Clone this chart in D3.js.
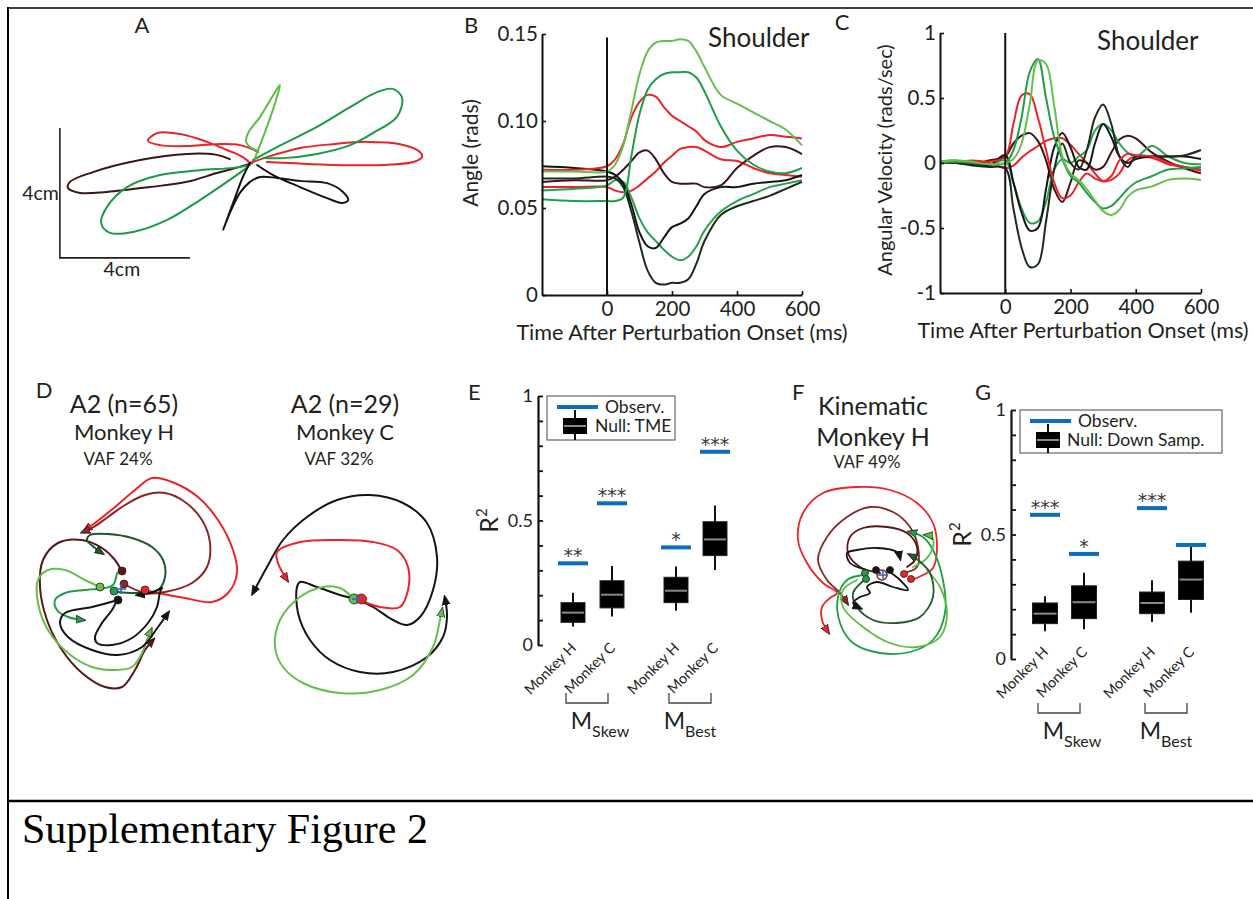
<!DOCTYPE html>
<html>
<head>
<meta charset="utf-8">
<script src="https://d3js.org/d3.v7.min.js"></script>
<style>
  body { margin: 0; background: #fff; }
  svg { display: block; }
  text { font-family: Lato, "Open Sans", sans-serif; fill: #231f20; }
</style>
</head>
<body>
<svg id="fig" width="1253" height="899"></svg>
<script>
// ---------------- data ----------------
// A: hand paths (cm, relative to start position)
const handBrown = [[0.06,0],[-0.31,-0.12],[-1.02,-0.31],[-1.94,-0.58],[-3.08,-0.74],[-4.4,-0.89],[-5.23,-0.92],[-5.6,-0.77],[-5.54,-0.58],[-4.83,-0.28],[-3.38,0.09],[-1.94,0.28],[-1.02,0.25],[-0.62,0.12]];
const handRedL = [[0,0],[-0.22,0.18],[-0.71,0.4],[-1.32,0.65],[-2.15,0.89],[-2.86,0.92],[-3.14,0.68],[-2.77,0.55],[-1.94,0.52],[-1.02,0.58],[-0.31,0.55],[0.25,0.34]];
const handRedR = [[0,0],[0.52,0.18],[1.54,0.46],[2.55,0.58],[3.6,0.65],[4.62,0.58],[5.23,0.34],[5.29,0.18],[5.02,0.03],[4.09,-0.06],[2.55,-0.06],[1.23,0],[0.52,0.03]];
const handGreenUp = [[0.09,0.09],[0.83,0.49],[2.06,1.11],[3.08,1.72],[3.91,2.18],[4.4,2.28],[4.68,2.0],[4.52,1.42],[3.78,0.92],[3.08,0.55],[2.06,0.28],[1.02,0.15],[0.4,0.15]];
const handGreenDown = [[0,-0.06],[-0.52,-0.15],[-1.54,-0.22],[-2.77,-0.37],[-3.78,-0.74],[-4.4,-1.35],[-4.58,-1.85],[-4.31,-2.15],[-3.6,-2.12],[-2.55,-1.75],[-1.54,-1.14],[-0.62,-0.52],[-0.06,-0.12]];
const handLightGreen = [[0.15,0.15],[0.52,1.11],[0.83,2.03],[0.92,2.4],[0.68,2.03],[0.31,1.42],[-0.06,0.92],[-0.12,0.65],[0,0.49],[0.25,0.37]];
const handBlack = [[0,0],[-0.22,-0.43],[-0.52,-1.23],[-0.83,-2.06],[-0.62,-1.54],[-0.31,-0.92],[0,-0.58],[0.31,-0.43],[0.83,-0.46],[1.54,-0.55],[2.37,-0.62],[2.86,-0.89],[3.02,-1.14],[2.83,-1.23],[2.37,-1.08],[1.54,-0.74],[0.71,-0.37],[0.22,-0.06]];
const scaleBarCm = 4;

// B: shoulder angle (rads)
const timeB = [-200,-100,0,25,50,75,100,125,150,175,200,225,250,275,300,350,400,450,500,550,600];
const angLightGreen = [0.071,0.071,0.071,0.075,0.086,0.106,0.127,0.140,0.145,0.146,0.146,0.147,0.146,0.140,0.131,0.115,0.110,0.105,0.100,0.095,0.086];
const angGreenUp    = [0.055,0.054,0.054,0.054,0.056,0.080,0.104,0.118,0.124,0.127,0.128,0.128,0.128,0.125,0.117,0.097,0.083,0.075,0.071,0.070,0.073];
const angRedUp      = [0.072,0.072,0.074,0.078,0.087,0.102,0.111,0.115,0.114,0.108,0.103,0.100,0.097,0.094,0.089,0.085,0.088,0.090,0.092,0.091,0.090];
const angRedLow     = [0.062,0.062,0.062,0.060,0.059,0.060,0.063,0.067,0.071,0.076,0.080,0.084,0.085,0.085,0.083,0.078,0.077,0.073,0.070,0.069,0.068];
const angBrown      = [0.065,0.066,0.066,0.068,0.072,0.077,0.082,0.083,0.078,0.070,0.065,0.064,0.064,0.064,0.062,0.063,0.073,0.080,0.085,0.085,0.081];
const angBlack      = [0.074,0.073,0.071,0.069,0.064,0.052,0.036,0.028,0.027,0.033,0.039,0.041,0.044,0.051,0.058,0.062,0.062,0.064,0.065,0.066,0.069];
const angDark       = [0.067,0.067,0.068,0.067,0.062,0.048,0.030,0.014,0.007,0.006,0.007,0.007,0.009,0.018,0.031,0.046,0.051,0.054,0.057,0.061,0.065];
const angGreenDown  = [0.060,0.061,0.063,0.066,0.065,0.056,0.044,0.036,0.031,0.026,0.022,0.020,0.022,0.028,0.037,0.048,0.054,0.058,0.062,0.064,0.066];

// C: shoulder angular velocity (rads/sec)
const timeC = [-200,-150,-100,-50,0,25,50,75,100,125,150,175,200,225,250,275,300,325,350,375,400,450,500,550,600];
const velLightGreen = [0.01,0.02,0.01,-0.01,0.0,0.03,0.15,0.45,0.79,0.76,0.44,0.05,-0.08,-0.13,-0.2,-0.29,-0.37,-0.40,-0.36,-0.26,-0.21,-0.18,-0.13,-0.12,-0.13];
const velGreen      = [0.0,0.01,0.0,-0.01,0.0,0.1,0.35,0.7,0.8,0.5,0.2,0.03,-0.1,-0.15,-0.23,-0.3,-0.35,-0.33,-0.27,-0.2,-0.15,-0.1,-0.05,-0.04,-0.03];
const velRedBig     = [0.0,0.01,0.02,0.01,0.05,0.3,0.52,0.53,0.35,0.1,-0.15,-0.27,-0.25,-0.15,-0.08,-0.12,-0.14,-0.1,0.02,0.07,0.06,0.05,0.0,-0.03,-0.06];
const velRedSmall   = [0.0,0.0,0.01,0.0,-0.04,-0.02,0.04,0.09,0.13,0.17,0.19,0.19,0.14,0.07,0.0,-0.08,-0.14,-0.13,-0.08,0.02,0.05,0.04,-0.01,-0.03,-0.05];
const velBrown      = [0.0,0.0,-0.01,0.02,0.05,0.15,0.21,0.23,0.17,0.02,-0.2,-0.3,-0.15,0.02,0.0,-0.05,-0.03,0.08,0.18,0.21,0.19,0.08,0.01,-0.04,-0.08];
const velBlack      = [0.0,0.01,0.0,-0.02,0.06,-0.15,-0.38,-0.52,-0.5,-0.2,0.12,0.23,0.12,-0.03,-0.05,0.15,0.3,0.2,0.05,0.0,0.03,0.05,0.05,0.05,0.03];
const velDark       = [0.0,0.0,-0.02,-0.03,-0.04,-0.35,-0.65,-0.8,-0.78,-0.45,-0.05,0.15,0.0,-0.05,0.1,0.35,0.45,0.3,0.05,-0.03,0.05,0.05,0.05,0.06,0.1];
const velGreen2     = [0.01,0.02,0.0,-0.02,0.02,-0.15,-0.35,-0.46,-0.45,-0.3,-0.05,0.03,0.0,0.05,0.1,0.25,0.3,0.25,0.15,0.08,0.05,0.13,0.05,0.0,-0.01];

// D: neural trajectories, Monkey H (a.u.)
const popHRed = [[2.5,0.1],[3.8,-0.2],[6.5,-0.7],[9.2,-1.1],[10.8,-0.2],[11.7,1.8],[11.3,4.1],[9.8,7.1],[7.8,9.4],[5.2,10.9],[3.2,11.3],[1.5,10.1],[-0.5,8.4],[-2.5,6.8],[-3.5,6.1]];
const popHDarkRed = [[0.4,0.7],[2.5,-0.2],[4.5,-0.1],[7.2,0.8],[8.7,2.4],[9.0,4.8],[8.2,7.1],[6.5,8.9],[4.5,9.8],[2.5,9.6],[0.5,8.6],[-1.2,7.4],[-2.8,6.3],[-3.7,5.9]];
const popHMaroon = [[0.2,1.9],[-0.5,3.1],[-1.8,4.3],[-3.8,5.1],[-6.2,4.8],[-7.7,3.1],[-8.0,0.4],[-7.3,-2.9],[-5.8,-5.9],[-3.8,-8.2],[-1.5,-9.6],[0.2,-9.6],[1.5,-7.9],[2.5,-5.9],[3.3,-4.9]];
const popHDarkGreen = [[-0.2,-0.1],[1.5,-0.2],[3.8,0.1],[4.5,1.4],[4.3,3.1],[3.2,4.4],[1.2,5.3],[-1.2,5.7],[-3.0,5.6],[-3.3,5.1],[-2.5,4.3],[-1.8,3.8]];
const popHLightGreen = [[-2.0,0.4],[-3.5,1.1],[-5.5,2.1],[-7.2,2.1],[-8.2,1.1],[-8.2,-1.2],[-7.2,-3.9],[-5.2,-6.2],[-2.8,-7.6],[-0.5,-7.9],[1.2,-7.6],[2.2,-6.2],[2.8,-4.6],[3.1,-3.9]];
const popHGreen = [[-0.3,1.8],[-0.7,0.6],[-1.5,0.3],[-3.5,0.1],[-5.5,-0.2],[-6.5,-0.9],[-6.3,-1.9],[-5.2,-2.6],[-3.7,-2.9]];
const popHBlackA = [[-0.2,-0.9],[-2.8,-1.6],[-5.5,-2.2],[-6.0,-3.2],[-5.2,-4.6],[-2.8,-5.9],[-0.2,-6.4],[2.2,-5.6],[3.8,-3.6],[4.8,-2.2]];
const popHBlackB = [[-0.2,-0.7],[-0.8,-1.9],[-1.8,-3.2],[-2.5,-4.6],[-2.3,-5.2],[-0.8,-5.4],[1.2,-4.7],[2.8,-3.2],[3.7,-1.6],[4.0,-0.1],[4.2,0.3]];
const popHBlackC = [[4.2,0.3],[3.0,-0.2],[1.8,-0.4]];
const popHStarts = [[0.2,2.0,"#5a1616"],[0.4,0.7,"#8c2626"],[-2.0,0.4,"#67bf4b"],[-0.6,0.0,"#1f9d48"],[2.5,0.1,"#ec2227"],[-0.2,-0.9,"#141414"]];

// D: neural trajectories, Monkey C (a.u.)
const popCBlackOuter = [[0,0],[1.6,-0.8],[3.6,-2.1],[5.0,-2.6],[6.3,-1.8],[7.6,0.9],[8.0,4.2],[7.0,7.6],[4.6,9.6],[1.3,10.4],[-2.0,9.9],[-5.0,8.2],[-7.4,5.9],[-9.0,3.2],[-10.4,0.6]];
const popCBlackInner = [[0,0],[-1.7,0.4],[-4.0,1.2],[-5.7,1.7],[-6.0,1.2],[-5.9,-1.4],[-4.7,-4.1],[-2.7,-6.1],[0.3,-7.3],[3.6,-7.3],[7.0,-5.8],[8.6,-3.8],[9.0,-1.8],[8.8,0.1]];
const popCRed = [[0.3,-0.1],[2.3,-0.8],[4.3,-0.8],[5.1,0.9],[5.1,3.2],[4.0,4.9],[1.6,5.7],[-1.7,5.9],[-5.7,5.7],[-8.0,4.7],[-7.9,3.6],[-7.0,1.9]];
const popCLightGreen = [[-0.4,0.1],[-1.7,1.1],[-3.4,1.2],[-5.7,0.2],[-7.7,-2.1],[-8.2,-4.8],[-7.4,-6.8],[-5.4,-8.4],[-1.7,-9.4],[2.3,-9.1],[5.6,-7.6],[7.6,-4.8],[8.3,-2.1],[8.5,-1.1]];
const popCStarts = [[-0.3,0,"#67bf4b"],[0.45,0,"#ec2227"]];

// F: kinematic trajectories, Monkey H (a.u.)
const kinRed = [[2.9,-0.5],[4.0,0],[5.0,0.7],[5.4,2.8],[5.0,5.2],[3.4,7.2],[0.7,8.5],[-2.6,8.8],[-6.0,8.2],[-8.0,6.2],[-8.5,3.5],[-7.6,1.2],[-6.0,-0.8],[-4.6,-1.8],[-5.3,-2.3],[-6.1,-3.2],[-6.1,-4.5],[-5.5,-5.7]];
const kinDarkRed = [[2.0,0.2],[3.4,0.8],[3.5,2.8],[2.7,4.8],[1.0,6.3],[-1.3,6.8],[-3.6,5.8],[-5.6,3.8],[-6.5,1.5],[-5.6,-0.5],[-4.3,-1.8],[-3.6,-2.8]];
const kinMaroon = [[-0.3,0.2],[-2.3,0.8],[-3.5,2.2],[-3.3,3.8],[-2.0,4.7],[0.4,4.8],[2.4,4.2],[3.4,2.8],[3.2,1.5],[2.4,0.8]];
const kinBlackA = [[-1.6,0.5],[-3.3,1.2],[-3.6,2.2],[-2.6,2.5],[-0.6,2.7],[1.4,2.3],[1.7,1.7]];
const kinBlackB = [[0.4,0.5],[1.7,-0.5],[2.5,-1.5],[1.0,-1.2],[-0.6,-0.7],[-1.6,-1.2],[-1.3,-1.8],[-2.3,-2.2],[-3.0,-2.8],[-2.3,-3.3]];
const kinDarkGreen = [[-1.6,-0.3],[-3.0,-1.8],[-2.6,-3.2],[-1.0,-4.5],[1.4,-4.8],[3.7,-4.2],[5.0,-2.2],[4.7,0.2],[3.5,1.5],[2.7,2.0]];
const kinGreen = [[-2.0,0],[-3.6,-0.5],[-4.5,-2.2],[-4.3,-4.8],[-3.0,-6.8],[-0.3,-7.8],[2.7,-7.7],[5.0,-6.5],[6.2,-3.8],[6.0,-0.5],[5.0,2.5],[4.0,3.8],[2.7,4.3]];
const kinLightGreen = [[-2.6,-0.5],[-4.0,-1.5],[-4.0,-3.2],[-2.0,-5.2],[0.7,-6.8],[3.4,-7.2],[5.7,-6.2],[6.4,-3.8],[5.7,-1.2],[4.4,0.5]];
const kinLightGreen2 = [[3.0,0.8],[4.3,1.6],[5.0,2.8],[4.9,3.8],[4.3,4.0]];
const kinStarts = [[-1.8,0.2,"#1f9d48"],[-1.7,-0.4,"#1f9d48"],[-0.7,0.5,"#141414"],[0.7,0.5,"#141414"],[2.1,0.1,"#ec2227"],[2.8,-0.4,"#ec2227"]];

// E & G: R^2 box plots
const boxMonkeys = ["Monkey H","Monkey C","Monkey H","Monkey C"];
const boxModels  = ["Skew","Skew","Best","Best"];
const tmeLo  = [0.074,0.114,0.138,0.301];
const tmeQ1  = [0.091,0.149,0.170,0.359];
const tmeMed = [0.130,0.202,0.218,0.424];
const tmeQ3  = [0.170,0.258,0.272,0.495];
const tmeHi  = [0.210,0.317,0.315,0.560];
const tmeObs = [0.328,0.569,0.392,0.776];
const tmeSig = ["**","***","*","***"];
const dsLo  = [0.111,0.119,0.149,0.186];
const dsQ1  = [0.142,0.162,0.182,0.239];
const dsMed = [0.182,0.228,0.225,0.319];
const dsQ3  = [0.225,0.294,0.269,0.393];
const dsHi  = [0.252,0.346,0.316,0.450];
const dsObs = [0.579,0.422,0.606,0.458];
const dsSig = ["***","*","***",""];

// ---------------- drawing ----------------
const svg = d3.select("#fig");
const defs = svg.append("defs");
const C = {lg:"#67bf4b", g:"#1f9d48", g2:"#27a24c", dg:"#1d5b2c", r:"#ec2227", dr:"#8c2626", mr:"#5a1616", br:"#3b1616", k:"#141414", kk:"#1d2b20", blue:"#0f6cb6"};

function arrow(color) {
  const id = "arr" + color.slice(1);
  if (defs.select("#" + id).empty()) {
    defs.append("marker").attr("id", id).attr("viewBox", "0 -5 10 10")
      .attr("refX", 7).attr("refY", 0).attr("markerWidth", 10).attr("markerHeight", 10)
      .attr("markerUnits", "userSpaceOnUse").attr("orient", "auto")
      .append("path").attr("d", "M0,-4L10,0L0,4Z").attr("fill", color)
      .attr("stroke", "#111").attr("stroke-width", 0.7);
  }
  return "url(#" + id + ")";
}

function label(x, y, s, size, anchor, extra) {
  const t = svg.append("text").attr("x", x).attr("y", y).attr("font-size", size)
    .attr("text-anchor", anchor || "start").text(s);
  if (extra) extra(t);
  return t;
}

// frame
svg.append("line").attr("x1", 8).attr("x2", 1253).attr("y1", 8).attr("y2", 8).attr("stroke", "#000").attr("stroke-width", 1.5);
svg.append("line").attr("x1", 8).attr("x2", 8).attr("y1", 7).attr("y2", 899).attr("stroke", "#000").attr("stroke-width", 2);
svg.append("line").attr("x1", 8).attr("x2", 1253).attr("y1", 801).attr("y2", 801).attr("stroke", "#000").attr("stroke-width", 2.5);
svg.append("text").attr("x", 22).attr("y", 843).attr("font-size", 42)
  .style("font-family", "'Liberation Serif', 'Times New Roman', serif").style("fill", "#000")
  .text("Supplementary Figure 2");

// trajectory helpers
function trajScale(cx, cy, ppu) {
  return {x: d3.scaleLinear().domain([0, 1]).range([cx, cx + ppu]),
          y: d3.scaleLinear().domain([0, 1]).range([cy, cy - ppu])};
}
function traj(sc, pts, color, withArrow, w) {
  svg.append("path").datum(pts)
    .attr("d", d3.line().x(d => sc.x(d[0])).y(d => sc.y(d[1])).curve(d3.curveCatmullRom.alpha(0.5)))
    .attr("fill", "none").attr("stroke", color).attr("stroke-width", w || 2)
    .attr("stroke-linejoin", "round").attr("stroke-linecap", "round")
    .attr("marker-end", withArrow ? arrow(color) : null);
}
function starts(sc, list, r) {
  svg.append("g").selectAll("circle").data(list).join("circle")
    .attr("cx", d => sc.x(d[0])).attr("cy", d => sc.y(d[1])).attr("r", r)
    .attr("fill", d => d[2]).attr("stroke", "#222").attr("stroke-width", 0.8);
}
function cross(sc, p) {
  const g = svg.append("g").attr("stroke", "#3a62c4").attr("stroke-width", 1.6);
  g.append("line").attr("x1", sc.x(p[0]) - 5).attr("x2", sc.x(p[0]) + 5).attr("y1", sc.y(p[1])).attr("y2", sc.y(p[1]));
  g.append("line").attr("x1", sc.x(p[0])).attr("x2", sc.x(p[0])).attr("y1", sc.y(p[1]) - 5).attr("y2", sc.y(p[1]) + 5);
}

// ---- A ----
label(142, 33, "A", 22, "middle");
const sA = trajScale(250, 163, 32.5);
const barOrigin = [-5.85, -2.92];
svg.append("path")
  .attr("d", d3.line()([[sA.x(barOrigin[0]), sA.y(barOrigin[1] + scaleBarCm)], [sA.x(barOrigin[0]), sA.y(barOrigin[1])], [sA.x(barOrigin[0] + scaleBarCm), sA.y(barOrigin[1])]]))
  .attr("fill", "none").attr("stroke", "#231f20").attr("stroke-width", 1.6);
label(sA.x(barOrigin[0]) - 1, sA.y(barOrigin[1] + scaleBarCm / 2) + 7, "4cm", 19.5, "end");
label(sA.x(barOrigin[0] + scaleBarCm / 2) - 3, sA.y(barOrigin[1]) + 18, "4cm", 19.5, "middle");
traj(sA, handBrown, C.br);
traj(sA, handGreenDown, "#1a9a44");
traj(sA, handRedL, C.r);
traj(sA, handRedR, C.r);
traj(sA, handGreenUp, "#1a9a44");
traj(sA, handLightGreen, "#5cbc45");
traj(sA, handBlack, C.k);

// ---- B & C line panels ----
function linePanel(o) {
  const x = d3.scaleLinear().domain([-200, 600]).range(o.xr);
  const y = d3.scaleLinear().domain(o.yd).range(o.yr);
  const g = svg.append("g");
  const line = d3.line().x((d, i) => x(o.time[i])).y(d => y(d)).curve(d3.curveCatmullRom.alpha(0.5));
  o.series.forEach(s => g.append("path").datum(s.v).attr("d", line)
    .attr("fill", "none").attr("stroke", s.c).attr("stroke-width", 2));
  g.append("line").attr("x1", x(0)).attr("x2", x(0)).attr("y1", y(o.yd[0])).attr("y2", y(o.zeroTop))
    .attr("stroke", "#111").attr("stroke-width", 2);
  const ax = g.append("g").attr("transform", `translate(0,${o.yr[0]})`)
    .call(d3.axisBottom(x).tickValues([0, 200, 400, 600]).tickSize(-4).tickSizeOuter(0).tickPadding(6));
  const ay = g.append("g").attr("transform", `translate(${o.xr[0]},0)`)
    .call(d3.axisLeft(y).tickValues(o.yticks).tickFormat(o.fmt).tickSize(-4).tickSizeOuter(0).tickPadding(4));
  [ax, ay].forEach(a => {
    a.selectAll("path.domain").attr("stroke", "#111").attr("stroke-width", 2);
    a.selectAll(".tick line").attr("stroke", "#111").attr("stroke-width", 1.6);
    a.selectAll("text").attr("font-size", 20.5).attr("font-family", null).style("fill", "#231f20");
  });
  ax.selectAll("text").attr("dy", "0.71em");
  return {x, y};
}

label(471, 33, "B", 22, "middle");
linePanel({
  xr: [542, 802], yd: [0, 0.15], yr: [295, 34], zeroTop: 0.148, time: timeB,
  yticks: [0, 0.05, 0.1, 0.15], fmt: d => d === 0 ? "0" : d3.format(".2f")(d),
  series: [
    {v: angRedLow, c: C.r}, {v: angBrown, c: C.br}, {v: angGreenDown, c: C.g2},
    {v: angDark, c: C.kk}, {v: angBlack, c: C.k}, {v: angRedUp, c: C.r},
    {v: angGreenUp, c: C.g}, {v: angLightGreen, c: C.lg}
  ]
});
label(708, 47, "Shoulder", 26);
label(478, 153, "Angle (rads)", 21, "middle", t => t.attr("transform", "rotate(-90,478,153)"));
label(682, 340, "Time After Perturbation Onset (ms)", 21.6, "middle");

label(842, 30, "C", 22, "middle");
linePanel({
  xr: [940, 1201], yd: [-1, 1], yr: [293, 33], zeroTop: 1, time: timeC,
  yticks: [-1, -0.5, 0, 0.5, 1], fmt: d => String(d),
  series: [
    {v: velRedSmall, c: C.r}, {v: velBrown, c: C.br}, {v: velGreen2, c: C.g2},
    {v: velBlack, c: C.k}, {v: velDark, c: C.kk}, {v: velRedBig, c: C.r},
    {v: velGreen, c: C.g}, {v: velLightGreen, c: C.lg}
  ]
});
label(1097, 50, "Shoulder", 26);
label(892, 160, "Angular Velocity (rads/sec)", 20, "middle", t => t.attr("transform", "rotate(-90,892,160)"));
label(1083, 338, "Time After Perturbation Onset (ms)", 21.6, "middle");

// ---- D ----
label(44, 398, "D", 22, "middle");
label(124, 413, "A2 (n=65)", 25, "middle");
label(124, 440, "Monkey H", 22, "middle");
label(118, 465, "VAF 24%", 17, "middle");
label(345, 413, "A2 (n=29)", 25, "middle");
label(345, 440, "Monkey C", 22, "middle");
label(339, 465, "VAF 32%", 17, "middle");
const sDH = trajScale(120, 591, 10);
traj(sDH, popHMaroon, C.mr, true);
traj(sDH, popHRed, C.r, true);
traj(sDH, popHDarkRed, C.dr, true);
traj(sDH, popHDarkGreen, C.dg, true);
traj(sDH, popHLightGreen, C.lg, true);
traj(sDH, popHGreen, C.g, true);
traj(sDH, popHBlackA, C.k, true);
traj(sDH, popHBlackB, C.k, false);
traj(sDH, popHBlackC, C.k, true);
starts(sDH, popHStarts, 4);
cross(sDH, [0.1, 0.2]);

const sDC = trajScale(357, 599, 10);
traj(sDC, popCBlackOuter, C.k, true);
traj(sDC, popCBlackInner, C.k, true);
traj(sDC, popCRed, C.r, true);
traj(sDC, popCLightGreen, C.lg, true);
starts(sDC, popCStarts, 5);
cross(sDC, [0, 0]);

// ---- F ----
label(792, 400, "F", 22);
label(873, 415, "Kinematic", 25, "middle");
label(873, 446, "Monkey H", 25, "middle");
label(867, 468, "VAF 49%", 16.5, "middle");
const sF = trajScale(883, 575, 10);
traj(sF, kinRed, C.r, true, 1.8);
traj(sF, kinDarkRed, C.dr, true, 1.8);
traj(sF, kinMaroon, C.mr, false, 1.8);
traj(sF, kinGreen, C.g, true, 1.8);
traj(sF, kinLightGreen, "#5fbd45", false, 1.8);
traj(sF, kinLightGreen2, "#5fbd45", true, 1.8);
traj(sF, kinDarkGreen, C.dg, true, 1.8);
traj(sF, kinBlackA, C.k, true, 1.8);
traj(sF, kinBlackB, C.k, true, 1.8);
svg.append("circle").attr("cx", sF.x(-0.1)).attr("cy", sF.y(0)).attr("r", 5)
  .attr("fill", "none").attr("stroke", C.dr).attr("stroke-width", 1.5);
starts(sF, kinStarts, 3.5);
cross(sF, [0, 0]);

// ---- E & G box panels ----
function boxPanel(o) {
  const y = d3.scaleLinear().domain([0, 1]).range(o.yr);
  const outer = d3.scaleBand().domain(["Skew", "Best"]).range([o.axisX, o.axisX + 2 * o.groupW]);
  const inner = d3.scalePoint().domain(["Monkey H", "Monkey C"]).range(o.inner);
  const cx = i => outer(boxModels[i]) + inner(boxMonkeys[i]);
  const g = svg.append("g");
  const bw = o.bw;
  const idx = d3.range(boxMonkeys.length);
  g.selectAll("line.wh").data(idx).join("line")
    .attr("x1", cx).attr("x2", cx).attr("y1", i => y(o.lo[i])).attr("y2", i => y(o.hi[i]))
    .attr("stroke", "#111").attr("stroke-width", 2);
  g.selectAll("rect.bx").data(idx).join("rect")
    .attr("x", i => cx(i) - bw / 2).attr("width", bw)
    .attr("y", i => y(o.q3[i])).attr("height", i => y(o.q1[i]) - y(o.q3[i]))
    .attr("fill", "#000").attr("stroke", "#222").attr("stroke-width", 1);
  g.selectAll("line.md").data(idx).join("line")
    .attr("x1", i => cx(i) - bw / 2 + 1).attr("x2", i => cx(i) + bw / 2 - 1)
    .attr("y1", i => y(o.med[i])).attr("y2", i => y(o.med[i]))
    .attr("stroke", "#8a8a8a").attr("stroke-width", 2);
  g.selectAll("line.ob").data(idx).join("line")
    .attr("x1", i => cx(i) - 15).attr("x2", i => cx(i) + 15)
    .attr("y1", i => y(o.obs[i])).attr("y2", i => y(o.obs[i]))
    .attr("stroke", C.blue).attr("stroke-width", 4);
  g.selectAll("text.sig").data(idx).join("text")
    .attr("x", i => cx(i)).attr("y", i => y(o.obs[i]) - 1)
    .attr("text-anchor", "middle").attr("font-size", 19)
    .style("font-family", "'DejaVu Sans', sans-serif").style("fill", "#3a3a3a")
    .text(i => o.sig[i]);
  const ay = g.append("g").attr("transform", `translate(${o.axisX},0)`)
    .call(d3.axisLeft(y).tickValues(d3.range(0, 1.01, 0.1))
      .tickFormat(d => [0, 0.5, 1].includes(Math.round(d * 10) / 10) ? String(Math.round(d * 10) / 10) : "")
      .tickSize(-5).tickSizeOuter(0).tickPadding(5));
  ay.selectAll("path.domain").attr("stroke", "#111").attr("stroke-width", 2.2);
  ay.selectAll(".tick line").attr("stroke", "#111").attr("stroke-width", 1.8);
  ay.selectAll("text").attr("font-size", 18).attr("font-family", null).style("fill", "#231f20");
  const rx = o.axisX - 40, ry = y(0.5);
  g.append("text").attr("transform", `translate(${rx},${ry}) rotate(-90)`).attr("text-anchor", "middle")
    .attr("font-size", 25).call(t => {
      t.append("tspan").text("R");
      t.append("tspan").attr("font-size", 15).attr("dy", -11).text("2");
    });
  g.selectAll("text.mk").data(idx).join("text")
    .attr("transform", i => `translate(${cx(i) + 4},${y(0) + o.mkDy}) rotate(-45)`)
    .attr("text-anchor", "end").attr("font-size", 14.5).text(i => boxMonkeys[i]);
  ["Skew", "Best"].forEach(m => {
    const x1 = outer(m) + o.inner[0] - 7, x2 = outer(m) + o.inner[1] - 4;
    g.append("path").attr("d", d3.line()([[x1, o.brY - 10], [x1, o.brY], [x2, o.brY], [x2, o.brY - 10]]))
      .attr("fill", "none").attr("stroke", "#444").attr("stroke-width", 1.3);
    const t = g.append("text").attr("x", (x1 + x2) / 2 + (m === "Skew" ? 13 : 0)).attr("y", o.brY + 26)
      .attr("text-anchor", "middle").attr("font-size", 23);
    t.append("tspan").text("M");
    t.append("tspan").attr("font-size", 16).attr("dy", 8).text(m);
  });
  // legend
  const L = o.legend;
  g.append("rect").attr("x", L.x).attr("y", L.y).attr("width", L.w).attr("height", L.h)
    .attr("fill", "#fff").attr("stroke", "#666").attr("stroke-width", 1.2);
  g.append("line").attr("x1", L.x + 10).attr("x2", L.x + 51).attr("y1", L.y + 11).attr("y2", L.y + 11)
    .attr("stroke", C.blue).attr("stroke-width", 4);
  g.append("text").attr("x", L.x + L.obsX).attr("y", L.y + 17).attr("font-size", 17.5).text("Observ.");
  const bx = L.x + 28;
  g.append("line").attr("x1", bx).attr("x2", bx).attr("y1", L.y + 14).attr("y2", L.y + L.h)
    .attr("stroke", "#111").attr("stroke-width", 2);
  g.append("rect").attr("x", bx - 12).attr("y", L.y + 22).attr("width", 24).attr("height", 16).attr("fill", "#000");
  g.append("line").attr("x1", bx - 11).attr("x2", bx + 11).attr("y1", L.y + 30).attr("y2", L.y + 30)
    .attr("stroke", "#8a8a8a").attr("stroke-width", 2);
  g.append("text").attr("x", L.x + L.nullX).attr("y", L.y + 36).attr("font-size", 17.5).text(L.nullText);
}

label(468, 400, "E", 22);
boxPanel({
  yr: [645, 396], axisX: 538, groupW: 103, inner: [35, 74], bw: 24, brY: 703, mkDy: 4,
  lo: tmeLo, q1: tmeQ1, med: tmeMed, q3: tmeQ3, hi: tmeHi, obs: tmeObs, sig: tmeSig,
  legend: {x: 547, y: 396, w: 128, h: 44, obsX: 58, nullX: 48, nullText: "Null: TME"}
});

label(975, 400, "G", 22);
boxPanel({
  yr: [659, 410], axisX: 1011, groupW: 107, inner: [34, 73], bw: 25, brY: 713, mkDy: -6,
  lo: dsLo, q1: dsQ1, med: dsMed, q3: dsQ3, hi: dsHi, obs: dsObs, sig: dsSig,
  legend: {x: 1020, y: 410, w: 202, h: 43, obsX: 58, nullX: 47, nullText: "Null: Down Samp."}
});
</script>
</body>
</html>
